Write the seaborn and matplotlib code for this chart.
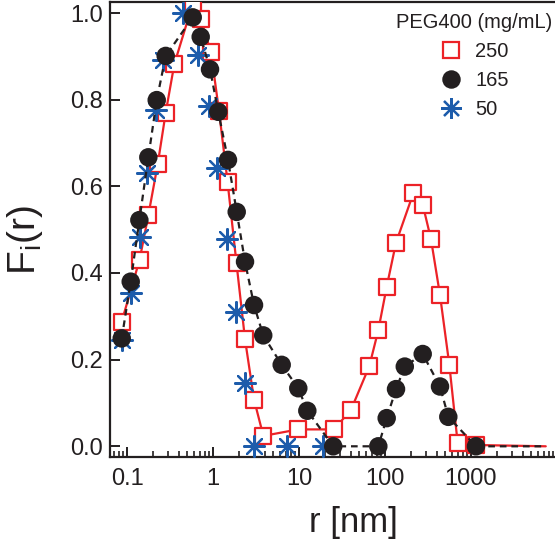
import numpy as np
import pandas as pd
import matplotlib
matplotlib.use("Agg")
import matplotlib.pyplot as plt
from matplotlib.lines import Line2D
from matplotlib.ticker import FixedLocator, FixedFormatter, LogLocator, NullFormatter
import seaborn as sns

# ---------------- data ----------------
r_250 = [0.0868, 0.1398, 0.1769, 0.2275, 0.2818, 0.3548, 0.578, 0.721, 0.948,
         1.174, 1.475, 1.876, 2.356, 2.998, 3.848, 9.81, 25.5, 40.2, 65.7, 83.6,
         104.6, 134.3, 213.4, 274.4, 342.6, 436.1, 559.9, 700.3, 1143]
f_250 = [0.288, 0.430, 0.533, 0.651, 0.770, 0.882, 1.02, 0.986, 0.909,
         0.774, 0.611, 0.422, 0.247, 0.108, 0.024, 0.039, 0.039, 0.084, 0.185, 0.268,
         0.368, 0.470, 0.584, 0.558, 0.478, 0.349, 0.188, 0.007, 0.003]

r_165 = [0.0868, 0.1104, 0.1392, 0.1769, 0.2215, 0.2818, 0.581, 0.719, 0.923,
         1.152, 1.493, 1.886, 2.356, 2.998, 3.836, 6.29, 9.81, 12.49, 25.0, 83.6,
         104.6, 134.3, 169.8, 274.4, 436.1, 544.6, 1143]
f_165 = [0.249, 0.380, 0.522, 0.667, 0.799, 0.901, 0.990, 0.945, 0.870,
         0.772, 0.661, 0.541, 0.426, 0.326, 0.256, 0.188, 0.134, 0.082, 0.0, 0.0,
         0.065, 0.132, 0.184, 0.213, 0.138, 0.068, 0.0]

r_50 = [0.0868, 0.1104, 0.1416, 0.1722, 0.2149, 0.2640, 0.451, 0.675, 0.906,
        1.104, 1.455, 1.835, 2.335, 2.998, 7.19, 18.9]
f_50 = [0.245, 0.353, 0.484, 0.630, 0.776, 0.892, 1.0, 0.903, 0.785,
        0.642, 0.478, 0.311, 0.147, 0.0, 0.0, 0.0]

# line tails (fit curves continue at zero to the right)
r_tail = [7400]
f_tail = [0.0]

legend_title = "PEG400 (mg/mL)"
labels = ["250", "165", "50"]

x_ticks = [0.1, 1, 10, 100, 1000]
x_ticklabels = ["0.1", "1", "10", "100", "1000"]
y_ticks = [0.0, 0.2, 0.4, 0.6, 0.8, 1.0]
y_ticklabels = ["0.0", "0.2", "0.4", "0.6", "0.8", "1.0"]

RED = "#EC2227"
BLUE = "#1D5CAB"
BLACK = "#231F20"

# ---------------- figure ----------------
sns.set_theme(style="ticks")
plt.rcParams["font.family"] = ["Liberation Sans", "DejaVu Sans"]
plt.rcParams["mathtext.fontset"] = "custom"
plt.rcParams["mathtext.rm"] = "Liberation Sans"

fig = plt.figure(figsize=(5.55, 5.46), dpi=100)
ax = fig.add_axes([110 / 555, 1 - 457 / 546, 445 / 555, (457 - 1.5) / 546])
ax.set_xscale("log")

df250 = pd.DataFrame({"r": r_250 + r_tail, "F": f_250 + f_tail})
df165 = pd.DataFrame({"r": r_165 + r_tail, "F": f_165 + f_tail})

# red line + squares
sns.lineplot(data=df250, x="r", y="F", sort=False, estimator=None, ax=ax,
             color=RED, lw=1.6, zorder=2)
sns.scatterplot(x=r_250, y=f_250, ax=ax, marker="s", s=12 ** 2,
                facecolor="white", edgecolor=RED, linewidth=1.6, zorder=3)
# blue asterisks
sns.scatterplot(x=r_50, y=f_50, ax=ax, marker=(8, 2, 0), s=15 ** 2,
                color=BLUE, edgecolor=BLUE, linewidth=1.6, zorder=4)
# black dashed line + circles
sns.lineplot(data=df165, x="r", y="F", sort=False, estimator=None, ax=ax,
             color=BLACK, lw=1.6, zorder=5)
ax.lines[-1].set_dashes((3.0, 2.2))
sns.scatterplot(x=r_165, y=f_165, ax=ax, marker="o", s=13.3 ** 2,
                color=BLACK, edgecolor="none", linewidth=0, zorder=6)

ax.set_xlim(0.0634, 9480)
ax.set_ylim(-0.0247, 1.0266)

# ticks
ax.xaxis.set_major_locator(FixedLocator(x_ticks))
ax.xaxis.set_major_formatter(FixedFormatter(x_ticklabels))
ax.xaxis.set_minor_locator(LogLocator(base=10, subs=np.arange(2, 10)))
ax.xaxis.set_minor_formatter(NullFormatter())
ax.yaxis.set_major_locator(FixedLocator(y_ticks))
ax.yaxis.set_major_formatter(FixedFormatter(y_ticklabels))

ax.tick_params(axis="both", which="major", direction="in", length=7, width=1.4,
               labelsize=17, colors=BLACK, top=False, right=False)
ax.tick_params(axis="x", which="major", pad=8)
ax.tick_params(axis="y", which="major", pad=5)
ax.tick_params(axis="x", which="minor", direction="in", length=4, width=1.2,
               colors=BLACK, top=False)
ax.tick_params(axis="y", which="minor", left=False, right=False)

for side in ["left", "bottom", "top"]:
    ax.spines[side].set_linewidth(1.6)
    ax.spines[side].set_color(BLACK)
ax.spines["right"].set_visible(False)

ax.set_xlabel("r [nm]", fontsize=25, color=BLACK)
ax.set_ylabel(r"F$_{\mathregular{i}}$(r)", fontsize=28, color=BLACK)
ax.xaxis.set_label_coords(0.546, -0.108)
ax.yaxis.set_label_coords(-0.145, 0.476)

handles = [
    Line2D([], [], linestyle="none", marker="s", markersize=12,
           markerfacecolor="white", markeredgecolor=RED, markeredgewidth=1.6),
    Line2D([], [], linestyle="none", marker="o", markersize=13.3,
           markerfacecolor=BLACK, markeredgecolor="none"),
    Line2D([], [], linestyle="none", marker=(8, 2, 0), markersize=15,
           markerfacecolor=BLUE, markeredgecolor=BLUE, markeredgewidth=1.6),
]
leg = fig.legend(handles, labels, title=legend_title, loc="upper right",
                 bbox_to_anchor=(1.013, 0.995), frameon=False, fontsize=14.5,
                 title_fontsize=14.5, borderpad=0, labelspacing=0.5,
                 handlelength=1.2, handletextpad=0.6)
for t in leg.get_texts():
    t.set_color(BLACK)
leg.get_title().set_color(BLACK)

fig.savefig("out.png", dpi=100)
